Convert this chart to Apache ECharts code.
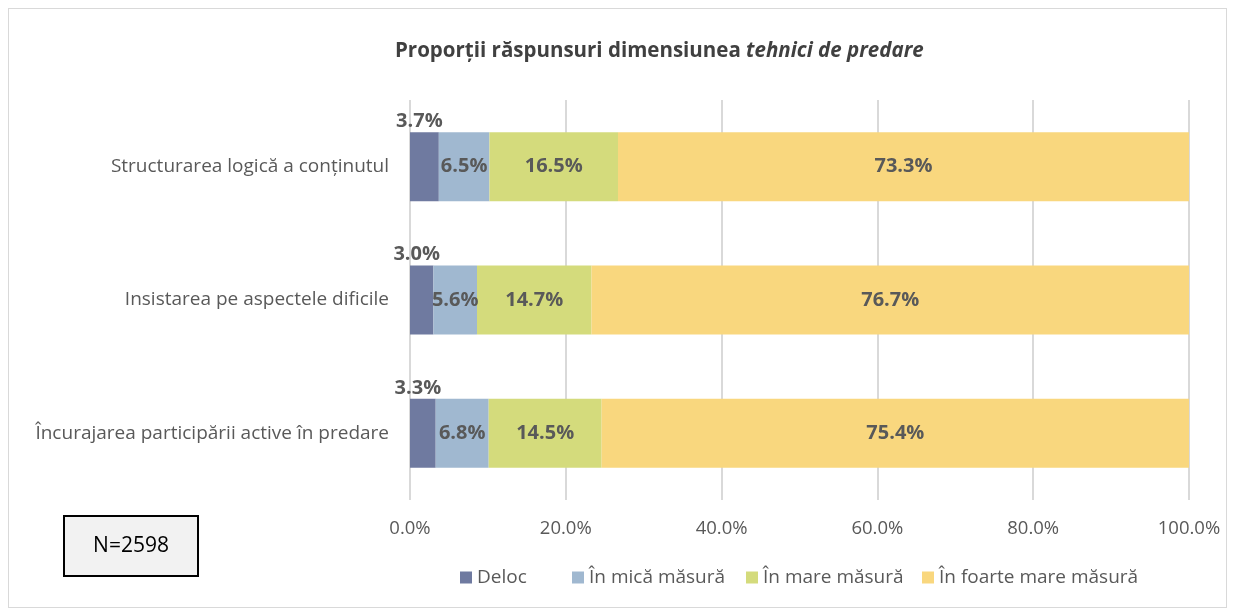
<!DOCTYPE html>
<html>
<head>
    <meta charset="utf-8" />
    <title>Proporții răspunsuri dimensiunea tehnici de predare</title>
    <script src="https://cdn.jsdelivr.net/npm/echarts@6/dist/echarts.min.js"></script>
    <style>
        html, body { margin: 0; padding: 0; background: #fff; }
        #wrap { position: absolute; left: 8px; top: 8px; width: 1219px; height: 600px; border: 1px solid #d9d9d9; box-sizing: border-box; }
        #echart { position: absolute; left: 0; top: 0; width: 1235px; height: 608px; }
    </style>
</head>
<body>
    <div id="wrap"></div>
    <div id="echart"></div>
</body>
</html>
<script>
    var categories = ['Structurarea logică a conținutul', 'Insistarea pe aspectele dificile', 'Încurajarea participării active în predare'];
    var seriesNames = ['Deloc', 'În mică măsură', 'În mare măsură', 'În foarte mare măsură'];
    var deloc = [3.7, 3.0, 3.3];
    var mica = [6.5, 5.6, 6.8];
    var mare = [16.5, 14.7, 14.5];
    var foarteMare = [73.3, 76.7, 75.4];
    var colors = ['#6f7aa0', '#a0b8d0', '#d4db7c', '#f9d77e'];
    var legendLeft = [455, 567, 741, 917];
    var font = '"Open Sans", Lato, sans-serif';

    var chart = echarts.init(document.getElementById('echart'));

    function makeSeries(name, data, color, first) {
        return {
            name: name,
            type: 'bar',
            stack: 'total',
            barWidth: 69,
            data: data,
            itemStyle: { color: color },
            label: {
                show: true,
                position: first ? 'top' : 'inside',
                offset: first ? [-5, 4] : [0, 0],
                formatter: function (p) { return p.value.toFixed(1) + '%'; },
                color: '#595959',
                fontWeight: 'bold',
                fontSize: 20,
                fontFamily: font
            }
        };
    }

    // one legend per item so each sits where the reference puts it
    var legends = seriesNames.map(function (n, i) {
        return {
            data: [n],
            left: legendLeft[i],
            bottom: 16,
            itemWidth: 12,
            itemHeight: 12,
            itemGap: 4,
            icon: 'rect',
            textStyle: { fontSize: 19, color: '#595959', fontFamily: font }
        };
    });

    var option = {
        animation: false,
        textStyle: { fontFamily: font },
        title: {
            text: '{b|Proporții răspunsuri dimensiunea }{i|tehnici de predare}',
            left: 390,
            top: 36,
            textStyle: {
                rich: {
                    b: { fontSize: 20.5, fontWeight: 'bold', color: '#404040', fontFamily: font },
                    i: { fontSize: 20.5, fontWeight: 'bold', fontStyle: 'italic', color: '#404040', fontFamily: font }
                }
            }
        },
        legend: legends,
        grid: { left: 410, right: 46, top: 100, bottom: 108 },
        xAxis: {
            type: 'value',
            min: 0,
            max: 100,
            interval: 20,
            axisLabel: {
                formatter: function (v) { return v.toFixed(1) + '%'; },
                fontSize: 18.5,
                color: '#595959',
                margin: 19
            },
            splitLine: { lineStyle: { color: '#d9d9d9', width: 2 } },
            axisLine: { show: false },
            axisTick: { show: false }
        },
        yAxis: {
            type: 'category',
            inverse: true,
            data: categories,
            axisLabel: { fontSize: 19, color: '#595959', margin: 21 },
            axisLine: { show: false },
            axisTick: { show: false }
        },
        graphic: [{
            type: 'group',
            left: 63,
            top: 515,
            children: [{
                type: 'rect',
                shape: { x: 0, y: 0, width: 134, height: 60 },
                style: { fill: '#f2f2f2', stroke: '#000', lineWidth: 2 }
            }, {
                type: 'text',
                x: 67,
                y: 30,
                style: { text: 'N=2598', fontSize: 21, fill: '#000', align: 'center', verticalAlign: 'middle', fontFamily: font }
            }]
        }],
        series: [
            makeSeries(seriesNames[0], deloc, colors[0], true),
            makeSeries(seriesNames[1], mica, colors[1], false),
            makeSeries(seriesNames[2], mare, colors[2], false),
            makeSeries(seriesNames[3], foarteMare, colors[3], false)
        ]
    };
    chart.setOption(option);
</script>
